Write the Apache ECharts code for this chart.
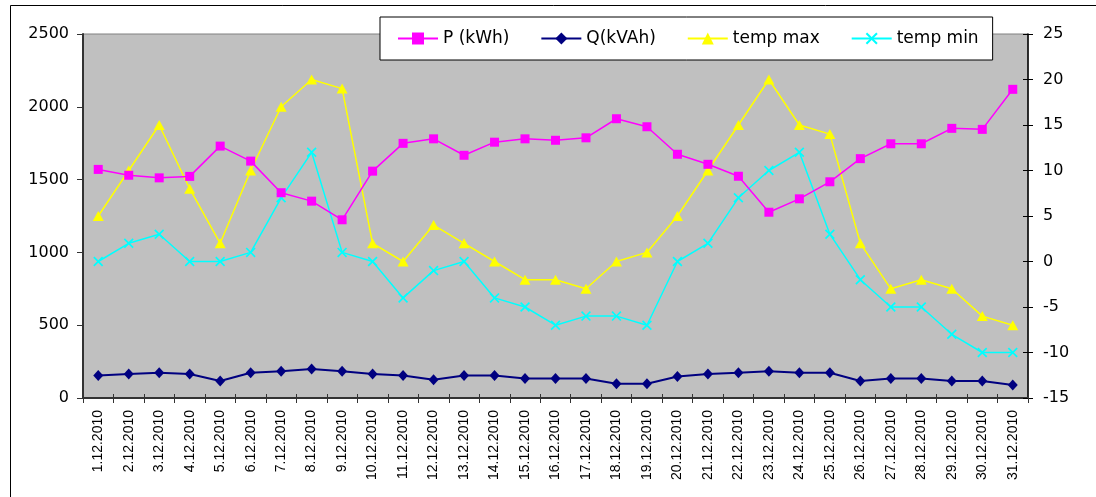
<!DOCTYPE html>
<html>
<head>
<meta charset="utf-8">
<script src="https://cdn.jsdelivr.net/npm/echarts@6/dist/echarts.min.js"></script>
<style>
html,body{margin:0;padding:0;background:#fff;}
#chart{width:1096px;height:497px;}
</style>
</head>
<body>
<div id="chart"></div>
<script>
const categories = ['1.12.2010','2.12.2010','3.12.2010','4.12.2010','5.12.2010','6.12.2010','7.12.2010','8.12.2010','9.12.2010','10.12.2010','11.12.2010','12.12.2010','13.12.2010','14.12.2010','15.12.2010','16.12.2010','17.12.2010','18.12.2010','19.12.2010','20.12.2010','21.12.2010','22.12.2010','23.12.2010','24.12.2010','25.12.2010','26.12.2010','27.12.2010','28.12.2010','29.12.2010','30.12.2010','31.12.2010'];
const pValues = [1570,1530,1512,1522,1730,1627,1410,1352,1224,1558,1749,1780,1667,1757,1780,1770,1787,1918,1863,1674,1605,1523,1276,1368,1485,1644,1746,1746,1852,1845,2120];
const qValues = [155,165,174,165,117,174,184,200,184,165,155,125,155,155,134,134,134,98,98,147,165,174,184,174,174,117,134,134,117,117,90];
const tempMax = [5,10,15,8,2,10,17,20,19,2,0,4,2,0,-2,-2,-3,0,1,5,10,15,20,15,14,2,-3,-2,-3,-6,-7];
const tempMin = [0,2,3,0,0,1,7,12,1,0,-4,-1,0,-4,-5,-7,-6,-6,-7,0,2,7,10,12,3,-2,-5,-5,-8,-10,-10];
const seriesNames = ['P (kWh)','Q(kVAh)','temp max','temp min'];

const crossPath = 'path://M0,1.2L1.2,0L5,3.8L8.8,0L10,1.2L6.2,5L10,8.8L8.8,10L5,6.2L1.2,10L0,8.8L3.8,5Z';

const chart = echarts.init(document.getElementById('chart'), null, {renderer:'canvas'});
const axisFont = {fontFamily:'DejaVu Sans', fontSize:16, color:'#000', formatter:function(v){return String(v);}};
chart.setOption({
  animation:false,
  backgroundColor:'#fff',
  graphic:[{type:'rect', shape:{x:10.5,y:5.5,width:1200,height:700}, style:{fill:'none',stroke:'#000',lineWidth:1}, z:-10}],
  grid:{left:83, right:68, top:34, bottom:99, show:true, backgroundColor:'#C0C0C0', borderColor:'#808080', borderWidth:1},
  legend:{
    left:380, top:17, orient:'horizontal',
    backgroundColor:'#fff', borderColor:'#000', borderWidth:1,
    padding:[13,14,13,17], itemGap:31, itemWidth:40, itemHeight:15,
    textStyle:{fontFamily:'DejaVu Sans', fontSize:17, color:'#000'},
    data:seriesNames
  },
  xAxis:[{
    type:'category', data:categories, boundaryGap:true,
    axisLine:{onZero:false, lineStyle:{color:'#333', width:2}},
    axisTick:{show:true, interval:0, length:5, lineStyle:{color:'#333'}},
    axisLabel:{interval:0, rotate:90, margin:12, fontFamily:'Liberation Sans', fontSize:14, color:'#000'},
    splitLine:{show:false}
  },{
    type:'category', data:categories, boundaryGap:true, position:'bottom', offset:0,
    axisLine:{show:false, onZero:false},
    axisTick:{show:true, inside:true, interval:0, length:4, lineStyle:{color:'#333'}},
    axisLabel:{show:false}, splitLine:{show:false}
  }],
  yAxis:[{
    type:'value', min:0, max:2500, interval:500, position:'left',
    axisLine:{show:true, onZero:false, lineStyle:{color:'#333', width:2}},
    axisTick:{show:true, length:6, lineStyle:{color:'#333'}},
    axisLabel:Object.assign({margin:14}, axisFont),
    splitLine:{show:false}
  },{
    type:'value', min:-15, max:25, interval:5, position:'right',
    axisLine:{show:true, onZero:false, lineStyle:{color:'#000', width:1.5}},
    axisTick:{show:true, length:5, lineStyle:{color:'#000'}},
    axisLabel:Object.assign({margin:15}, axisFont),
    splitLine:{show:false}
  },{
    type:'value', min:-15, max:25, interval:5, position:'right', offset:0,
    axisLine:{show:false, onZero:false},
    axisTick:{show:true, inside:true, length:5, lineStyle:{color:'#000'}},
    axisLabel:{show:false}, splitLine:{show:false}
  }],
  series:[
    {name:seriesNames[0], type:'line', yAxisIndex:0, data:pValues, symbol:'rect', symbolSize:9,
     itemStyle:{color:'#FF00FF'}, lineStyle:{color:'#FF00FF', width:1.5}, z:5},
    {name:seriesNames[1], type:'line', yAxisIndex:0, data:qValues, symbol:'diamond', symbolSize:[10,11],
     itemStyle:{color:'#000080'}, lineStyle:{color:'#000080', width:2}, z:4},
    {name:seriesNames[2], type:'line', yAxisIndex:1, data:tempMax, symbol:'triangle', symbolSize:[11,10],
     itemStyle:{color:'#FFFF00'}, lineStyle:{color:'#FFFF00', width:1.5}, z:3},
    {name:seriesNames[3], type:'line', yAxisIndex:1, data:tempMin, symbol:crossPath, symbolSize:10,
     itemStyle:{color:'#00FFFF'}, lineStyle:{color:'#00FFFF', width:1.5}, z:2}
  ]
});
</script>
</body>
</html>
